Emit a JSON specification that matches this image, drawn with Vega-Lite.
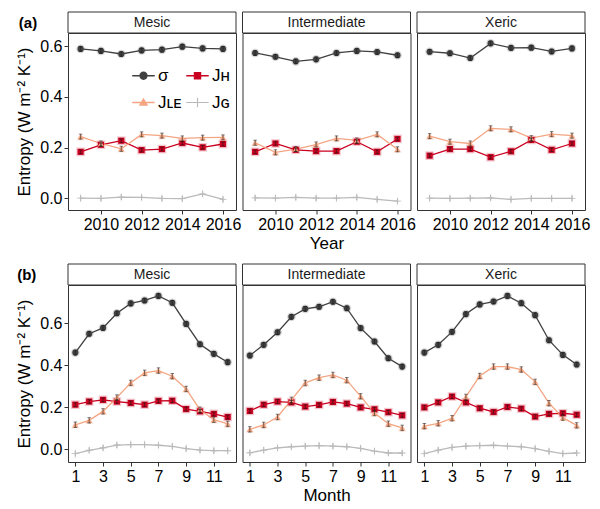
{
"$schema": "https://vega.github.io/schema/vega-lite/v6.json",
"padding": {"left": 14, "top": 11, "right": 8, "bottom": 6},
"background": "white",
"datasets": {
"yr": [
{"site":"Mesic","year":2009,"series":"sigma","value":0.590,"se":0.009},
{"site":"Mesic","year":2010,"series":"sigma","value":0.582,"se":0.009},
{"site":"Mesic","year":2011,"series":"sigma","value":0.570,"se":0.009},
{"site":"Mesic","year":2012,"series":"sigma","value":0.584,"se":0.009},
{"site":"Mesic","year":2013,"series":"sigma","value":0.587,"se":0.009},
{"site":"Mesic","year":2014,"series":"sigma","value":0.599,"se":0.009},
{"site":"Mesic","year":2015,"series":"sigma","value":0.592,"se":0.009},
{"site":"Mesic","year":2016,"series":"sigma","value":0.590,"se":0.009},
{"site":"Mesic","year":2009,"series":"JH","value":0.183,"se":0.007},
{"site":"Mesic","year":2010,"series":"JH","value":0.211,"se":0.007},
{"site":"Mesic","year":2011,"series":"JH","value":0.227,"se":0.007},
{"site":"Mesic","year":2012,"series":"JH","value":0.190,"se":0.007},
{"site":"Mesic","year":2013,"series":"JH","value":0.194,"se":0.007},
{"site":"Mesic","year":2014,"series":"JH","value":0.218,"se":0.007},
{"site":"Mesic","year":2015,"series":"JH","value":0.201,"se":0.007},
{"site":"Mesic","year":2016,"series":"JH","value":0.214,"se":0.007},
{"site":"Mesic","year":2009,"series":"JLE","value":0.243,"se":0.010},
{"site":"Mesic","year":2010,"series":"JLE","value":0.216,"se":0.010},
{"site":"Mesic","year":2011,"series":"JLE","value":0.195,"se":0.010},
{"site":"Mesic","year":2012,"series":"JLE","value":0.252,"se":0.010},
{"site":"Mesic","year":2013,"series":"JLE","value":0.247,"se":0.010},
{"site":"Mesic","year":2014,"series":"JLE","value":0.236,"se":0.010},
{"site":"Mesic","year":2015,"series":"JLE","value":0.239,"se":0.010},
{"site":"Mesic","year":2016,"series":"JLE","value":0.240,"se":0.010},
{"site":"Mesic","year":2009,"series":"JG","value":0.000,"se":0.011},
{"site":"Mesic","year":2010,"series":"JG","value":-0.001,"se":0.011},
{"site":"Mesic","year":2011,"series":"JG","value":0.004,"se":0.011},
{"site":"Mesic","year":2012,"series":"JG","value":0.003,"se":0.011},
{"site":"Mesic","year":2013,"series":"JG","value":-0.001,"se":0.011},
{"site":"Mesic","year":2014,"series":"JG","value":-0.002,"se":0.011},
{"site":"Mesic","year":2015,"series":"JG","value":0.017,"se":0.011},
{"site":"Mesic","year":2016,"series":"JG","value":-0.005,"se":0.011},
{"site":"Intermediate","year":2009,"series":"sigma","value":0.574,"se":0.009},
{"site":"Intermediate","year":2010,"series":"sigma","value":0.559,"se":0.009},
{"site":"Intermediate","year":2011,"series":"sigma","value":0.541,"se":0.009},
{"site":"Intermediate","year":2012,"series":"sigma","value":0.549,"se":0.009},
{"site":"Intermediate","year":2013,"series":"sigma","value":0.574,"se":0.009},
{"site":"Intermediate","year":2014,"series":"sigma","value":0.582,"se":0.009},
{"site":"Intermediate","year":2015,"series":"sigma","value":0.578,"se":0.009},
{"site":"Intermediate","year":2016,"series":"sigma","value":0.565,"se":0.009},
{"site":"Intermediate","year":2009,"series":"JH","value":0.183,"se":0.007},
{"site":"Intermediate","year":2010,"series":"JH","value":0.216,"se":0.007},
{"site":"Intermediate","year":2011,"series":"JH","value":0.191,"se":0.007},
{"site":"Intermediate","year":2012,"series":"JH","value":0.186,"se":0.007},
{"site":"Intermediate","year":2013,"series":"JH","value":0.186,"se":0.007},
{"site":"Intermediate","year":2014,"series":"JH","value":0.223,"se":0.007},
{"site":"Intermediate","year":2015,"series":"JH","value":0.183,"se":0.007},
{"site":"Intermediate","year":2016,"series":"JH","value":0.234,"se":0.007},
{"site":"Intermediate","year":2009,"series":"JLE","value":0.219,"se":0.010},
{"site":"Intermediate","year":2010,"series":"JLE","value":0.181,"se":0.010},
{"site":"Intermediate","year":2011,"series":"JLE","value":0.194,"se":0.010},
{"site":"Intermediate","year":2012,"series":"JLE","value":0.212,"se":0.010},
{"site":"Intermediate","year":2013,"series":"JLE","value":0.236,"se":0.010},
{"site":"Intermediate","year":2014,"series":"JLE","value":0.228,"se":0.010},
{"site":"Intermediate","year":2015,"series":"JLE","value":0.252,"se":0.010},
{"site":"Intermediate","year":2016,"series":"JLE","value":0.193,"se":0.010},
{"site":"Intermediate","year":2009,"series":"JG","value":0.001,"se":0.011},
{"site":"Intermediate","year":2010,"series":"JG","value":0.000,"se":0.011},
{"site":"Intermediate","year":2011,"series":"JG","value":0.003,"se":0.011},
{"site":"Intermediate","year":2012,"series":"JG","value":0.000,"se":0.011},
{"site":"Intermediate","year":2013,"series":"JG","value":0.000,"se":0.011},
{"site":"Intermediate","year":2014,"series":"JG","value":0.003,"se":0.011},
{"site":"Intermediate","year":2015,"series":"JG","value":-0.005,"se":0.011},
{"site":"Intermediate","year":2016,"series":"JG","value":-0.012,"se":0.011},
{"site":"Xeric","year":2009,"series":"sigma","value":0.579,"se":0.009},
{"site":"Xeric","year":2010,"series":"sigma","value":0.573,"se":0.009},
{"site":"Xeric","year":2011,"series":"sigma","value":0.554,"se":0.009},
{"site":"Xeric","year":2012,"series":"sigma","value":0.612,"se":0.009},
{"site":"Xeric","year":2013,"series":"sigma","value":0.594,"se":0.009},
{"site":"Xeric","year":2014,"series":"sigma","value":0.595,"se":0.009},
{"site":"Xeric","year":2015,"series":"sigma","value":0.580,"se":0.009},
{"site":"Xeric","year":2016,"series":"sigma","value":0.592,"se":0.009},
{"site":"Xeric","year":2009,"series":"JH","value":0.168,"se":0.007},
{"site":"Xeric","year":2010,"series":"JH","value":0.194,"se":0.007},
{"site":"Xeric","year":2011,"series":"JH","value":0.194,"se":0.007},
{"site":"Xeric","year":2012,"series":"JH","value":0.162,"se":0.007},
{"site":"Xeric","year":2013,"series":"JH","value":0.185,"se":0.007},
{"site":"Xeric","year":2014,"series":"JH","value":0.230,"se":0.007},
{"site":"Xeric","year":2015,"series":"JH","value":0.191,"se":0.007},
{"site":"Xeric","year":2016,"series":"JH","value":0.216,"se":0.007},
{"site":"Xeric","year":2009,"series":"JLE","value":0.245,"se":0.010},
{"site":"Xeric","year":2010,"series":"JLE","value":0.223,"se":0.010},
{"site":"Xeric","year":2011,"series":"JLE","value":0.216,"se":0.010},
{"site":"Xeric","year":2012,"series":"JLE","value":0.276,"se":0.010},
{"site":"Xeric","year":2013,"series":"JLE","value":0.272,"se":0.010},
{"site":"Xeric","year":2014,"series":"JLE","value":0.237,"se":0.010},
{"site":"Xeric","year":2015,"series":"JLE","value":0.253,"se":0.010},
{"site":"Xeric","year":2016,"series":"JLE","value":0.247,"se":0.010},
{"site":"Xeric","year":2009,"series":"JG","value":0.000,"se":0.011},
{"site":"Xeric","year":2010,"series":"JG","value":-0.001,"se":0.011},
{"site":"Xeric","year":2011,"series":"JG","value":0.000,"se":0.011},
{"site":"Xeric","year":2012,"series":"JG","value":0.001,"se":0.011},
{"site":"Xeric","year":2013,"series":"JG","value":-0.005,"se":0.011},
{"site":"Xeric","year":2014,"series":"JG","value":-0.001,"se":0.011},
{"site":"Xeric","year":2015,"series":"JG","value":-0.001,"se":0.011},
{"site":"Xeric","year":2016,"series":"JG","value":-0.001,"se":0.011}
],
"mo": [
{"site":"Mesic","month":1,"series":"sigma","value":0.461,"se":0.011},
{"site":"Mesic","month":2,"series":"sigma","value":0.551,"se":0.011},
{"site":"Mesic","month":3,"series":"sigma","value":0.579,"se":0.011},
{"site":"Mesic","month":4,"series":"sigma","value":0.649,"se":0.011},
{"site":"Mesic","month":5,"series":"sigma","value":0.696,"se":0.011},
{"site":"Mesic","month":6,"series":"sigma","value":0.710,"se":0.011},
{"site":"Mesic","month":7,"series":"sigma","value":0.732,"se":0.011},
{"site":"Mesic","month":8,"series":"sigma","value":0.699,"se":0.011},
{"site":"Mesic","month":9,"series":"sigma","value":0.598,"se":0.011},
{"site":"Mesic","month":10,"series":"sigma","value":0.501,"se":0.011},
{"site":"Mesic","month":11,"series":"sigma","value":0.455,"se":0.011},
{"site":"Mesic","month":12,"series":"sigma","value":0.415,"se":0.011},
{"site":"Mesic","month":1,"series":"JH","value":0.212,"se":0.009},
{"site":"Mesic","month":2,"series":"JH","value":0.227,"se":0.009},
{"site":"Mesic","month":3,"series":"JH","value":0.235,"se":0.009},
{"site":"Mesic","month":4,"series":"JH","value":0.227,"se":0.009},
{"site":"Mesic","month":5,"series":"JH","value":0.220,"se":0.009},
{"site":"Mesic","month":6,"series":"JH","value":0.212,"se":0.009},
{"site":"Mesic","month":7,"series":"JH","value":0.230,"se":0.009},
{"site":"Mesic","month":8,"series":"JH","value":0.231,"se":0.009},
{"site":"Mesic","month":9,"series":"JH","value":0.191,"se":0.009},
{"site":"Mesic","month":10,"series":"JH","value":0.180,"se":0.009},
{"site":"Mesic","month":11,"series":"JH","value":0.168,"se":0.009},
{"site":"Mesic","month":12,"series":"JH","value":0.153,"se":0.009},
{"site":"Mesic","month":1,"series":"JLE","value":0.116,"se":0.013},
{"site":"Mesic","month":2,"series":"JLE","value":0.137,"se":0.013},
{"site":"Mesic","month":3,"series":"JLE","value":0.180,"se":0.013},
{"site":"Mesic","month":4,"series":"JLE","value":0.246,"se":0.013},
{"site":"Mesic","month":5,"series":"JLE","value":0.316,"se":0.013},
{"site":"Mesic","month":6,"series":"JLE","value":0.364,"se":0.013},
{"site":"Mesic","month":7,"series":"JLE","value":0.375,"se":0.013},
{"site":"Mesic","month":8,"series":"JLE","value":0.348,"se":0.013},
{"site":"Mesic","month":9,"series":"JLE","value":0.287,"se":0.013},
{"site":"Mesic","month":10,"series":"JLE","value":0.188,"se":0.013},
{"site":"Mesic","month":11,"series":"JLE","value":0.140,"se":0.013},
{"site":"Mesic","month":12,"series":"JLE","value":0.120,"se":0.013},
{"site":"Mesic","month":1,"series":"JG","value":-0.022,"se":0.014},
{"site":"Mesic","month":2,"series":"JG","value":-0.006,"se":0.014},
{"site":"Mesic","month":3,"series":"JG","value":0.006,"se":0.014},
{"site":"Mesic","month":4,"series":"JG","value":0.019,"se":0.014},
{"site":"Mesic","month":5,"series":"JG","value":0.021,"se":0.014},
{"site":"Mesic","month":6,"series":"JG","value":0.021,"se":0.014},
{"site":"Mesic","month":7,"series":"JG","value":0.018,"se":0.014},
{"site":"Mesic","month":8,"series":"JG","value":0.013,"se":0.014},
{"site":"Mesic","month":9,"series":"JG","value":0.002,"se":0.014},
{"site":"Mesic","month":10,"series":"JG","value":-0.005,"se":0.014},
{"site":"Mesic","month":11,"series":"JG","value":-0.008,"se":0.014},
{"site":"Mesic","month":12,"series":"JG","value":-0.008,"se":0.014},
{"site":"Intermediate","month":1,"series":"sigma","value":0.447,"se":0.011},
{"site":"Intermediate","month":2,"series":"sigma","value":0.498,"se":0.011},
{"site":"Intermediate","month":3,"series":"sigma","value":0.558,"se":0.011},
{"site":"Intermediate","month":4,"series":"sigma","value":0.632,"se":0.011},
{"site":"Intermediate","month":5,"series":"sigma","value":0.670,"se":0.011},
{"site":"Intermediate","month":6,"series":"sigma","value":0.680,"se":0.011},
{"site":"Intermediate","month":7,"series":"sigma","value":0.704,"se":0.011},
{"site":"Intermediate","month":8,"series":"sigma","value":0.673,"se":0.011},
{"site":"Intermediate","month":9,"series":"sigma","value":0.578,"se":0.011},
{"site":"Intermediate","month":10,"series":"sigma","value":0.514,"se":0.011},
{"site":"Intermediate","month":11,"series":"sigma","value":0.434,"se":0.011},
{"site":"Intermediate","month":12,"series":"sigma","value":0.394,"se":0.011},
{"site":"Intermediate","month":1,"series":"JH","value":0.182,"se":0.009},
{"site":"Intermediate","month":2,"series":"JH","value":0.212,"se":0.009},
{"site":"Intermediate","month":3,"series":"JH","value":0.227,"se":0.009},
{"site":"Intermediate","month":4,"series":"JH","value":0.223,"se":0.009},
{"site":"Intermediate","month":5,"series":"JH","value":0.203,"se":0.009},
{"site":"Intermediate","month":6,"series":"JH","value":0.211,"se":0.009},
{"site":"Intermediate","month":7,"series":"JH","value":0.225,"se":0.009},
{"site":"Intermediate","month":8,"series":"JH","value":0.217,"se":0.009},
{"site":"Intermediate","month":9,"series":"JH","value":0.199,"se":0.009},
{"site":"Intermediate","month":10,"series":"JH","value":0.190,"se":0.009},
{"site":"Intermediate","month":11,"series":"JH","value":0.176,"se":0.009},
{"site":"Intermediate","month":12,"series":"JH","value":0.161,"se":0.009},
{"site":"Intermediate","month":1,"series":"JLE","value":0.094,"se":0.013},
{"site":"Intermediate","month":2,"series":"JLE","value":0.115,"se":0.013},
{"site":"Intermediate","month":3,"series":"JLE","value":0.153,"se":0.013},
{"site":"Intermediate","month":4,"series":"JLE","value":0.235,"se":0.013},
{"site":"Intermediate","month":5,"series":"JLE","value":0.316,"se":0.013},
{"site":"Intermediate","month":6,"series":"JLE","value":0.341,"se":0.013},
{"site":"Intermediate","month":7,"series":"JLE","value":0.354,"se":0.013},
{"site":"Intermediate","month":8,"series":"JLE","value":0.329,"se":0.013},
{"site":"Intermediate","month":9,"series":"JLE","value":0.252,"se":0.013},
{"site":"Intermediate","month":10,"series":"JLE","value":0.172,"se":0.013},
{"site":"Intermediate","month":11,"series":"JLE","value":0.121,"se":0.013},
{"site":"Intermediate","month":12,"series":"JLE","value":0.101,"se":0.013},
{"site":"Intermediate","month":1,"series":"JG","value":-0.018,"se":0.014},
{"site":"Intermediate","month":2,"series":"JG","value":-0.005,"se":0.014},
{"site":"Intermediate","month":3,"series":"JG","value":0.006,"se":0.014},
{"site":"Intermediate","month":4,"series":"JG","value":0.011,"se":0.014},
{"site":"Intermediate","month":5,"series":"JG","value":0.014,"se":0.014},
{"site":"Intermediate","month":6,"series":"JG","value":0.016,"se":0.014},
{"site":"Intermediate","month":7,"series":"JG","value":0.014,"se":0.014},
{"site":"Intermediate","month":8,"series":"JG","value":0.011,"se":0.014},
{"site":"Intermediate","month":9,"series":"JG","value":0.003,"se":0.014},
{"site":"Intermediate","month":10,"series":"JG","value":-0.010,"se":0.014},
{"site":"Intermediate","month":11,"series":"JG","value":-0.019,"se":0.014},
{"site":"Intermediate","month":12,"series":"JG","value":-0.019,"se":0.014},
{"site":"Xeric","month":1,"series":"sigma","value":0.461,"se":0.011},
{"site":"Xeric","month":2,"series":"sigma","value":0.498,"se":0.011},
{"site":"Xeric","month":3,"series":"sigma","value":0.560,"se":0.011},
{"site":"Xeric","month":4,"series":"sigma","value":0.645,"se":0.011},
{"site":"Xeric","month":5,"series":"sigma","value":0.691,"se":0.011},
{"site":"Xeric","month":6,"series":"sigma","value":0.705,"se":0.011},
{"site":"Xeric","month":7,"series":"sigma","value":0.732,"se":0.011},
{"site":"Xeric","month":8,"series":"sigma","value":0.697,"se":0.011},
{"site":"Xeric","month":9,"series":"sigma","value":0.640,"se":0.011},
{"site":"Xeric","month":10,"series":"sigma","value":0.520,"se":0.011},
{"site":"Xeric","month":11,"series":"sigma","value":0.450,"se":0.011},
{"site":"Xeric","month":12,"series":"sigma","value":0.404,"se":0.011},
{"site":"Xeric","month":1,"series":"JH","value":0.199,"se":0.009},
{"site":"Xeric","month":2,"series":"JH","value":0.223,"se":0.009},
{"site":"Xeric","month":3,"series":"JH","value":0.251,"se":0.009},
{"site":"Xeric","month":4,"series":"JH","value":0.223,"se":0.009},
{"site":"Xeric","month":5,"series":"JH","value":0.195,"se":0.009},
{"site":"Xeric","month":6,"series":"JH","value":0.177,"se":0.009},
{"site":"Xeric","month":7,"series":"JH","value":0.201,"se":0.009},
{"site":"Xeric","month":8,"series":"JH","value":0.193,"se":0.009},
{"site":"Xeric","month":9,"series":"JH","value":0.155,"se":0.009},
{"site":"Xeric","month":10,"series":"JH","value":0.168,"se":0.009},
{"site":"Xeric","month":11,"series":"JH","value":0.171,"se":0.009},
{"site":"Xeric","month":12,"series":"JH","value":0.164,"se":0.009},
{"site":"Xeric","month":1,"series":"JLE","value":0.109,"se":0.013},
{"site":"Xeric","month":2,"series":"JLE","value":0.123,"se":0.013},
{"site":"Xeric","month":3,"series":"JLE","value":0.147,"se":0.013},
{"site":"Xeric","month":4,"series":"JLE","value":0.249,"se":0.013},
{"site":"Xeric","month":5,"series":"JLE","value":0.349,"se":0.013},
{"site":"Xeric","month":6,"series":"JLE","value":0.394,"se":0.013},
{"site":"Xeric","month":7,"series":"JLE","value":0.394,"se":0.013},
{"site":"Xeric","month":8,"series":"JLE","value":0.380,"se":0.013},
{"site":"Xeric","month":9,"series":"JLE","value":0.321,"se":0.013},
{"site":"Xeric","month":10,"series":"JLE","value":0.219,"se":0.013},
{"site":"Xeric","month":11,"series":"JLE","value":0.150,"se":0.013},
{"site":"Xeric","month":12,"series":"JLE","value":0.113,"se":0.013},
{"site":"Xeric","month":1,"series":"JG","value":-0.022,"se":0.014},
{"site":"Xeric","month":2,"series":"JG","value":-0.005,"se":0.014},
{"site":"Xeric","month":3,"series":"JG","value":0.008,"se":0.014},
{"site":"Xeric","month":4,"series":"JG","value":0.014,"se":0.014},
{"site":"Xeric","month":5,"series":"JG","value":0.016,"se":0.014},
{"site":"Xeric","month":6,"series":"JG","value":0.018,"se":0.014},
{"site":"Xeric","month":7,"series":"JG","value":0.014,"se":0.014},
{"site":"Xeric","month":8,"series":"JG","value":0.011,"se":0.014},
{"site":"Xeric","month":9,"series":"JG","value":0.002,"se":0.014},
{"site":"Xeric","month":10,"series":"JG","value":-0.011,"se":0.014},
{"site":"Xeric","month":11,"series":"JG","value":-0.022,"se":0.014},
{"site":"Xeric","month":12,"series":"JG","value":-0.019,"se":0.014}
]
},
"vconcat": [
{
"concat": [
{"width":168,"height":21,"data":{"values":[{"site":"Mesic"}]},"title":{"text":"(a)","orient":"left","angle":0,"align":"right","baseline":"middle","anchor":"middle","offset":12},"layer":[{"mark":{"type":"rect","fill":"white","stroke":"#333333","strokeWidth":1},"encoding":{}},{"mark":{"type":"text","fontSize":14,"color":"#1a1a1a"},"encoding":{"text":{"field":"site","type":"nominal"}}}]},
{"width":168,"height":21,"data":{"values":[{"site":"Intermediate"}]},"layer":[{"mark":{"type":"rect","fill":"white","stroke":"#333333","strokeWidth":1},"encoding":{}},{"mark":{"type":"text","fontSize":14,"color":"#1a1a1a"},"encoding":{"text":{"field":"site","type":"nominal"}}}]},
{"width":168,"height":21,"data":{"values":[{"site":"Xeric"}]},"layer":[{"mark":{"type":"rect","fill":"white","stroke":"#333333","strokeWidth":1},"encoding":{}},{"mark":{"type":"text","fontSize":14,"color":"#1a1a1a"},"encoding":{"text":{"field":"site","type":"nominal"}}}]},
{"width":168,"height":177,"data":{"name":"yr"},"transform":[{"filter":"datum.site === 'Mesic'"}],
 "encoding":{
  "x":{"field":"year","type":"quantitative","scale":{"domain":[2008.38,2016.64],"nice":false,"zero":false},"axis":{"values":[2010,2012,2014,2016],"format":"d","title":null}},
  "y":{"field":"value","type":"quantitative","scale":{"domain":[-0.047,0.653],"nice":false,"zero":false},"axis":{"values":[0,0.2,0.4,0.6],"format":".1f","title":"Entropy (W m⁻² K⁻¹)","titleX":-35,"titleBaseline":"bottom"}},
  "color":{"field":"series","type":"nominal","scale":{"domain":["sigma","JH","JLE","JG"],"range":["#404040","#CA0020","#F4A582","#BABABA"]},
   "legend":{"orient":"none","legendX":64,"legendY":52,"direction":"horizontal","columns":2,"title":null,"labelFontSize":17,"labelColor":"#000000","symbolSize":506,"labelOffset":3,"columnPadding":4,"rowPadding":7,"symbolStrokeWidth":0,"symbolOpacity":1,"padding":0,
    "labelExpr":"datum.value === 'sigma' ? 'σ' : datum.value === 'JH' ? 'Jʜ' : datum.value === 'JLE' ? 'Jʟᴇ' : 'Jɢ'",
    "encode":{"symbols":{"update":{"shape":{"signal":"datum.value === 'sigma' ? 'M-1,-0.06H1V0.06H-1Z M-0.37,0A0.37,0.37 0 1,1 0.37,0A0.37,0.37 0 1,1 -0.37,0Z' : datum.value === 'JH' ? 'M-1,-0.06H1V0.06H-1Z M-0.33,-0.33H0.33V0.33H-0.33Z' : datum.value === 'JLE' ? 'M-1,-0.06H1V0.06H-1Z M0,-0.42L0.42,0.3H-0.42Z' : 'M-1,-0.05H1V0.05H-1Z M-0.05,-0.42H0.05V0.42H-0.05Z'"},"strokeWidth":{"value":0},"opacity":{"value":1}}}}}}
 },
 "layer":[
  {"mark":{"type":"line","strokeWidth":1.3}},
  {"mark":{"type":"point","filled":true,"size":75,"opacity":0.22,"strokeWidth":0},"encoding":{"shape":{"condition":[{"test":"datum.series === 'sigma'","value":"circle"},{"test":"datum.series === 'JH'","value":"square"},{"test":"datum.series === 'JLE'","value":"triangle-up"}],"value":"M-1,-0.14H1V0.14H-1Z M-0.14,-1H0.14V1H-0.14Z"}}},
  {"mark":{"type":"point","filled":true,"size":38,"opacity":1,"strokeWidth":0},"encoding":{"shape":{"condition":[{"test":"datum.series === 'sigma'","value":"circle"},{"test":"datum.series === 'JH'","value":"square"},{"test":"datum.series === 'JLE'","value":"triangle-up"}],"value":"M-1,-0.14H1V0.14H-1Z M-0.14,-1H0.14V1H-0.14Z"}}},
  {"transform":[{"filter":"datum.series === 'JG'"}],"mark":{"type":"errorbar","ticks":false,"thickness":1},"encoding":{"yError":{"field":"se"},"color":{"value":"#BABABA"}}},
  {"transform":[{"filter":"datum.series !== 'JG'"}],"mark":{"type":"errorbar","ticks":{"size":3.5},"thickness":1},"encoding":{"yError":{"field":"se"},"color":{"value":"#1a1a1a"},"opacity":{"value":0.55}}}
 ]
},
{"width":168,"height":177,"data":{"name":"yr"},"transform":[{"filter":"datum.site === 'Intermediate'"}],
 "encoding":{
  "x":{"field":"year","type":"quantitative","scale":{"domain":[2008.38,2016.64],"nice":false,"zero":false},"axis":{"values":[2010,2012,2014,2016],"format":"d","title":"Year"}},
  "y":{"field":"value","type":"quantitative","scale":{"domain":[-0.047,0.653],"nice":false,"zero":false},"axis":null},
  "color":{"field":"series","type":"nominal","scale":{"domain":["sigma","JH","JLE","JG"],"range":["#404040","#CA0020","#F4A582","#BABABA"]},"legend":null}
 },
 "layer":[
  {"mark":{"type":"line","strokeWidth":1.3}},
  {"mark":{"type":"point","filled":true,"size":75,"opacity":0.22,"strokeWidth":0},"encoding":{"shape":{"condition":[{"test":"datum.series === 'sigma'","value":"circle"},{"test":"datum.series === 'JH'","value":"square"},{"test":"datum.series === 'JLE'","value":"triangle-up"}],"value":"M-1,-0.14H1V0.14H-1Z M-0.14,-1H0.14V1H-0.14Z"}}},
  {"mark":{"type":"point","filled":true,"size":38,"opacity":1,"strokeWidth":0},"encoding":{"shape":{"condition":[{"test":"datum.series === 'sigma'","value":"circle"},{"test":"datum.series === 'JH'","value":"square"},{"test":"datum.series === 'JLE'","value":"triangle-up"}],"value":"M-1,-0.14H1V0.14H-1Z M-0.14,-1H0.14V1H-0.14Z"}}},
  {"transform":[{"filter":"datum.series === 'JG'"}],"mark":{"type":"errorbar","ticks":false,"thickness":1},"encoding":{"yError":{"field":"se"},"color":{"value":"#BABABA"}}},
  {"transform":[{"filter":"datum.series !== 'JG'"}],"mark":{"type":"errorbar","ticks":{"size":3.5},"thickness":1},"encoding":{"yError":{"field":"se"},"color":{"value":"#1a1a1a"},"opacity":{"value":0.55}}}
 ]
},
{"width":168,"height":177,"data":{"name":"yr"},"transform":[{"filter":"datum.site === 'Xeric'"}],
 "encoding":{
  "x":{"field":"year","type":"quantitative","scale":{"domain":[2008.38,2016.64],"nice":false,"zero":false},"axis":{"values":[2010,2012,2014,2016],"format":"d","title":null}},
  "y":{"field":"value","type":"quantitative","scale":{"domain":[-0.047,0.653],"nice":false,"zero":false},"axis":null},
  "color":{"field":"series","type":"nominal","scale":{"domain":["sigma","JH","JLE","JG"],"range":["#404040","#CA0020","#F4A582","#BABABA"]},"legend":null}
 },
 "layer":[
  {"mark":{"type":"line","strokeWidth":1.3}},
  {"mark":{"type":"point","filled":true,"size":75,"opacity":0.22,"strokeWidth":0},"encoding":{"shape":{"condition":[{"test":"datum.series === 'sigma'","value":"circle"},{"test":"datum.series === 'JH'","value":"square"},{"test":"datum.series === 'JLE'","value":"triangle-up"}],"value":"M-1,-0.14H1V0.14H-1Z M-0.14,-1H0.14V1H-0.14Z"}}},
  {"mark":{"type":"point","filled":true,"size":38,"opacity":1,"strokeWidth":0},"encoding":{"shape":{"condition":[{"test":"datum.series === 'sigma'","value":"circle"},{"test":"datum.series === 'JH'","value":"square"},{"test":"datum.series === 'JLE'","value":"triangle-up"}],"value":"M-1,-0.14H1V0.14H-1Z M-0.14,-1H0.14V1H-0.14Z"}}},
  {"transform":[{"filter":"datum.series === 'JG'"}],"mark":{"type":"errorbar","ticks":false,"thickness":1},"encoding":{"yError":{"field":"se"},"color":{"value":"#BABABA"}}},
  {"transform":[{"filter":"datum.series !== 'JG'"}],"mark":{"type":"errorbar","ticks":{"size":3.5},"thickness":1},"encoding":{"yError":{"field":"se"},"color":{"value":"#1a1a1a"},"opacity":{"value":0.55}}}
 ]
}
],
"columns":3,"spacing":{"row":0,"column":6.5},"bounds":"flush","align":"each"
},
{
"concat": [
{"width":168,"height":21,"data":{"values":[{"site":"Mesic"}]},"title":{"text":"(b)","orient":"left","angle":0,"align":"right","baseline":"middle","anchor":"middle","offset":12},"layer":[{"mark":{"type":"rect","fill":"white","stroke":"#333333","strokeWidth":1},"encoding":{}},{"mark":{"type":"text","fontSize":14,"color":"#1a1a1a"},"encoding":{"text":{"field":"site","type":"nominal"}}}]},
{"width":168,"height":21,"data":{"values":[{"site":"Intermediate"}]},"layer":[{"mark":{"type":"rect","fill":"white","stroke":"#333333","strokeWidth":1},"encoding":{}},{"mark":{"type":"text","fontSize":14,"color":"#1a1a1a"},"encoding":{"text":{"field":"site","type":"nominal"}}}]},
{"width":168,"height":21,"data":{"values":[{"site":"Xeric"}]},"layer":[{"mark":{"type":"rect","fill":"white","stroke":"#333333","strokeWidth":1},"encoding":{}},{"mark":{"type":"text","fontSize":14,"color":"#1a1a1a"},"encoding":{"text":{"field":"site","type":"nominal"}}}]},
{"width":168,"height":177,"data":{"name":"mo"},"transform":[{"filter":"datum.site === 'Mesic'"}],
 "encoding":{
  "x":{"field":"month","type":"quantitative","scale":{"domain":[0.47,12.6],"nice":false,"zero":false},"axis":{"values":[1,3,5,7,9,11],"format":"d","title":null}},
  "y":{"field":"value","type":"quantitative","scale":{"domain":[-0.062,0.784],"nice":false,"zero":false},"axis":{"values":[0,0.2,0.4,0.6],"format":".1f","title":"Entropy (W m⁻² K⁻¹)","titleX":-35,"titleBaseline":"bottom"}},
  "color":{"field":"series","type":"nominal","scale":{"domain":["sigma","JH","JLE","JG"],"range":["#404040","#CA0020","#F4A582","#BABABA"]},"legend":null}
 },
 "layer":[
  {"mark":{"type":"line","strokeWidth":1.3}},
  {"mark":{"type":"point","filled":true,"size":75,"opacity":0.22,"strokeWidth":0},"encoding":{"shape":{"condition":[{"test":"datum.series === 'sigma'","value":"circle"},{"test":"datum.series === 'JH'","value":"square"},{"test":"datum.series === 'JLE'","value":"triangle-up"}],"value":"M-1,-0.14H1V0.14H-1Z M-0.14,-1H0.14V1H-0.14Z"}}},
  {"mark":{"type":"point","filled":true,"size":38,"opacity":1,"strokeWidth":0},"encoding":{"shape":{"condition":[{"test":"datum.series === 'sigma'","value":"circle"},{"test":"datum.series === 'JH'","value":"square"},{"test":"datum.series === 'JLE'","value":"triangle-up"}],"value":"M-1,-0.14H1V0.14H-1Z M-0.14,-1H0.14V1H-0.14Z"}}},
  {"transform":[{"filter":"datum.series === 'JG'"}],"mark":{"type":"errorbar","ticks":false,"thickness":1},"encoding":{"yError":{"field":"se"},"color":{"value":"#BABABA"}}},
  {"transform":[{"filter":"datum.series !== 'JG'"}],"mark":{"type":"errorbar","ticks":{"size":3.5},"thickness":1},"encoding":{"yError":{"field":"se"},"color":{"value":"#1a1a1a"},"opacity":{"value":0.55}}}
 ]
},
{"width":168,"height":177,"data":{"name":"mo"},"transform":[{"filter":"datum.site === 'Intermediate'"}],
 "encoding":{
  "x":{"field":"month","type":"quantitative","scale":{"domain":[0.47,12.6],"nice":false,"zero":false},"axis":{"values":[1,3,5,7,9,11],"format":"d","title":"Month"}},
  "y":{"field":"value","type":"quantitative","scale":{"domain":[-0.062,0.784],"nice":false,"zero":false},"axis":null},
  "color":{"field":"series","type":"nominal","scale":{"domain":["sigma","JH","JLE","JG"],"range":["#404040","#CA0020","#F4A582","#BABABA"]},"legend":null}
 },
 "layer":[
  {"mark":{"type":"line","strokeWidth":1.3}},
  {"mark":{"type":"point","filled":true,"size":75,"opacity":0.22,"strokeWidth":0},"encoding":{"shape":{"condition":[{"test":"datum.series === 'sigma'","value":"circle"},{"test":"datum.series === 'JH'","value":"square"},{"test":"datum.series === 'JLE'","value":"triangle-up"}],"value":"M-1,-0.14H1V0.14H-1Z M-0.14,-1H0.14V1H-0.14Z"}}},
  {"mark":{"type":"point","filled":true,"size":38,"opacity":1,"strokeWidth":0},"encoding":{"shape":{"condition":[{"test":"datum.series === 'sigma'","value":"circle"},{"test":"datum.series === 'JH'","value":"square"},{"test":"datum.series === 'JLE'","value":"triangle-up"}],"value":"M-1,-0.14H1V0.14H-1Z M-0.14,-1H0.14V1H-0.14Z"}}},
  {"transform":[{"filter":"datum.series === 'JG'"}],"mark":{"type":"errorbar","ticks":false,"thickness":1},"encoding":{"yError":{"field":"se"},"color":{"value":"#BABABA"}}},
  {"transform":[{"filter":"datum.series !== 'JG'"}],"mark":{"type":"errorbar","ticks":{"size":3.5},"thickness":1},"encoding":{"yError":{"field":"se"},"color":{"value":"#1a1a1a"},"opacity":{"value":0.55}}}
 ]
},
{"width":168,"height":177,"data":{"name":"mo"},"transform":[{"filter":"datum.site === 'Xeric'"}],
 "encoding":{
  "x":{"field":"month","type":"quantitative","scale":{"domain":[0.47,12.6],"nice":false,"zero":false},"axis":{"values":[1,3,5,7,9,11],"format":"d","title":null}},
  "y":{"field":"value","type":"quantitative","scale":{"domain":[-0.062,0.784],"nice":false,"zero":false},"axis":null},
  "color":{"field":"series","type":"nominal","scale":{"domain":["sigma","JH","JLE","JG"],"range":["#404040","#CA0020","#F4A582","#BABABA"]},"legend":null}
 },
 "layer":[
  {"mark":{"type":"line","strokeWidth":1.3}},
  {"mark":{"type":"point","filled":true,"size":75,"opacity":0.22,"strokeWidth":0},"encoding":{"shape":{"condition":[{"test":"datum.series === 'sigma'","value":"circle"},{"test":"datum.series === 'JH'","value":"square"},{"test":"datum.series === 'JLE'","value":"triangle-up"}],"value":"M-1,-0.14H1V0.14H-1Z M-0.14,-1H0.14V1H-0.14Z"}}},
  {"mark":{"type":"point","filled":true,"size":38,"opacity":1,"strokeWidth":0},"encoding":{"shape":{"condition":[{"test":"datum.series === 'sigma'","value":"circle"},{"test":"datum.series === 'JH'","value":"square"},{"test":"datum.series === 'JLE'","value":"triangle-up"}],"value":"M-1,-0.14H1V0.14H-1Z M-0.14,-1H0.14V1H-0.14Z"}}},
  {"transform":[{"filter":"datum.series === 'JG'"}],"mark":{"type":"errorbar","ticks":false,"thickness":1},"encoding":{"yError":{"field":"se"},"color":{"value":"#BABABA"}}},
  {"transform":[{"filter":"datum.series !== 'JG'"}],"mark":{"type":"errorbar","ticks":{"size":3.5},"thickness":1},"encoding":{"yError":{"field":"se"},"color":{"value":"#1a1a1a"},"opacity":{"value":0.55}}}
 ]
}
],
"columns":3,"spacing":{"row":0,"column":6.5},"bounds":"flush","align":"each"
}
],
"spacing": 11,
"config": {
 "font": "Liberation Sans",
 "view": {"stroke": "#333333", "strokeWidth": 1},
 "axis": {"grid": false, "domain": false, "ticks": true, "tickColor": "#333333", "tickSize": 4, "tickWidth": 1, "labelFontSize": 16, "labelColor": "#000000", "labelPadding": 2, "labelFlush": false, "titleFontSize": 17, "titleFontWeight": "normal", "titleColor": "#000000"},
 "axisX": {"titlePadding": 3},
 "axisY": {"titlePadding": 5},
 "title": {"fontSize": 15, "fontWeight": "bold", "color": "#000000"}
}
}
